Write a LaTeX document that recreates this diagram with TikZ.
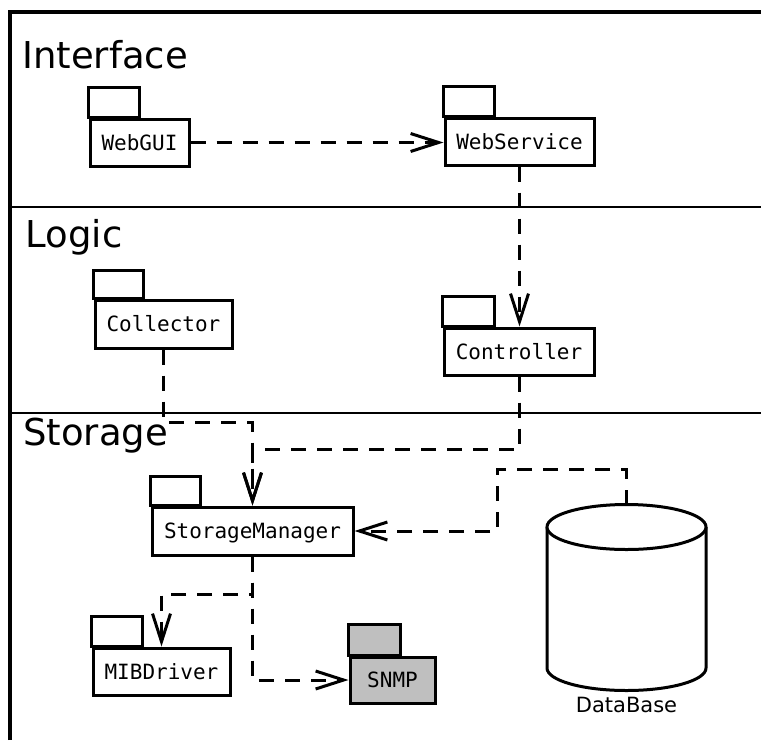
\documentclass[tikz,border=0pt]{standalone}
\usepackage{fontspec}
\setmainfont{DejaVu Sans}
\newfontfamily\pkgmono{DejaVu Sans Mono}
\usetikzlibrary{arrows.meta}
\begin{document}
\begin{tikzpicture}[x=1pt,y=-1pt,
  pkgbody/.style={draw, line width=3pt, fill=white, inner sep=0pt,
    font=\pkgmono\fontsize{21}{25}\selectfont, text height=15.3pt, text depth=0pt},
  pkgtab/.style={draw, line width=3pt, fill=white},
  graypkg/.style={fill=black!25},
  dep/.style={line width=3pt, dash pattern=on 15pt off 11pt,
    -{Straight Barb[length=28pt,width=18pt]}},
  layer/.style={anchor=base west, inner sep=0pt, font=\fontsize{37}{44}\selectfont},
  frameline/.style={line width=3.2pt},
  sepline/.style={line width=2.6pt}]
\useasboundingbox (0,0) rectangle (761,740);
\fill[white] (0,0) rectangle (761,740);
% frame
\draw[frameline] (10,740) -- (10,12) -- (761,12);
\draw[sepline] (10,207) -- (761,207);
\draw[sepline] (10,413) -- (761,413);
% layer labels
\node[layer] (linterface) at (22,68) {Interface};
\node[layer] (llogic) at (25.5,247) {Logic};
\node[layer] (lstorage) at (23,445) {Storage};
% packages
\node[pkgbody, minimum width=99pt, minimum height=47pt] (webgui) at (139.5,142.5) {WebGUI};
\node[pkgbody, minimum width=149pt, minimum height=47pt] (websvc) at (519.5,141.5) {WebService};
\node[pkgbody, minimum width=137pt, minimum height=48pt] (collector) at (163.5,324) {Collector};
\node[pkgbody, minimum width=150pt, minimum height=47pt] (controller) at (519,351.5) {Controller};
\node[pkgbody, minimum width=201pt, minimum height=48pt] (sm) at (252.5,531) {StorageManager};
\node[pkgbody, minimum width=137pt, minimum height=47pt] (mib) at (161.5,671.5) {MIBDriver};
\node[pkgbody, graypkg, minimum width=85pt, minimum height=46pt] (snmp) at (392.5,680) {SNMP};
% tabs
\draw[pkgtab] (webgui.north west) rectangle ++(51,-30);
\draw[pkgtab] (websvc.north west) rectangle ++(51,-30);
\draw[pkgtab] (collector.north west) rectangle ++(50,-28);
\draw[pkgtab] (controller.north west) rectangle ++(52,-30);
\draw[pkgtab] (sm.north west) rectangle ++(50,-29);
\draw[pkgtab] (mib.north west) rectangle ++(51,-30);
\draw[pkgtab, graypkg] (snmp.north west) rectangle ++(52,-31);
% database cylinder
\draw[line width=3pt, fill=white] (547,527) -- (547,668)
  arc[start angle=180, end angle=360, x radius=79.5pt, y radius=22.5pt] -- (706,527);
\draw[line width=3pt, fill=white] (626.5,527) ellipse[x radius=79.5pt, y radius=22.5pt];
\coordinate (dbtop) at (626.5,504.5);
\node[anchor=base, inner sep=0pt, font=\fontsize{21}{25}\selectfont] (dblabel) at (626.5,712) {DataBase};
% junction coordinates
\coordinate (c1) at (163.5,422);
\coordinate (c2) at (519,449);
\coordinate (d1) at (497,469);
\coordinate (m1) at (252.5,594);
% connectors
\draw[dep] (webgui.east) -- (webgui.east -| websvc.west);
\draw[dep] (websvc.south) -- (websvc.south |- controller.north);
\draw[dep] (collector.south) -- (c1) -| (sm.north);
\draw[dep] (controller.south) -- (c2) -| (sm.north);
\draw[dep] (dbtop) |- (d1) |- (sm.east);
\draw[dep] (sm.south) -- (m1) -| (mib.north);
\draw[dep] (sm.south) |- (snmp.west);
\end{tikzpicture}
\end{document}
